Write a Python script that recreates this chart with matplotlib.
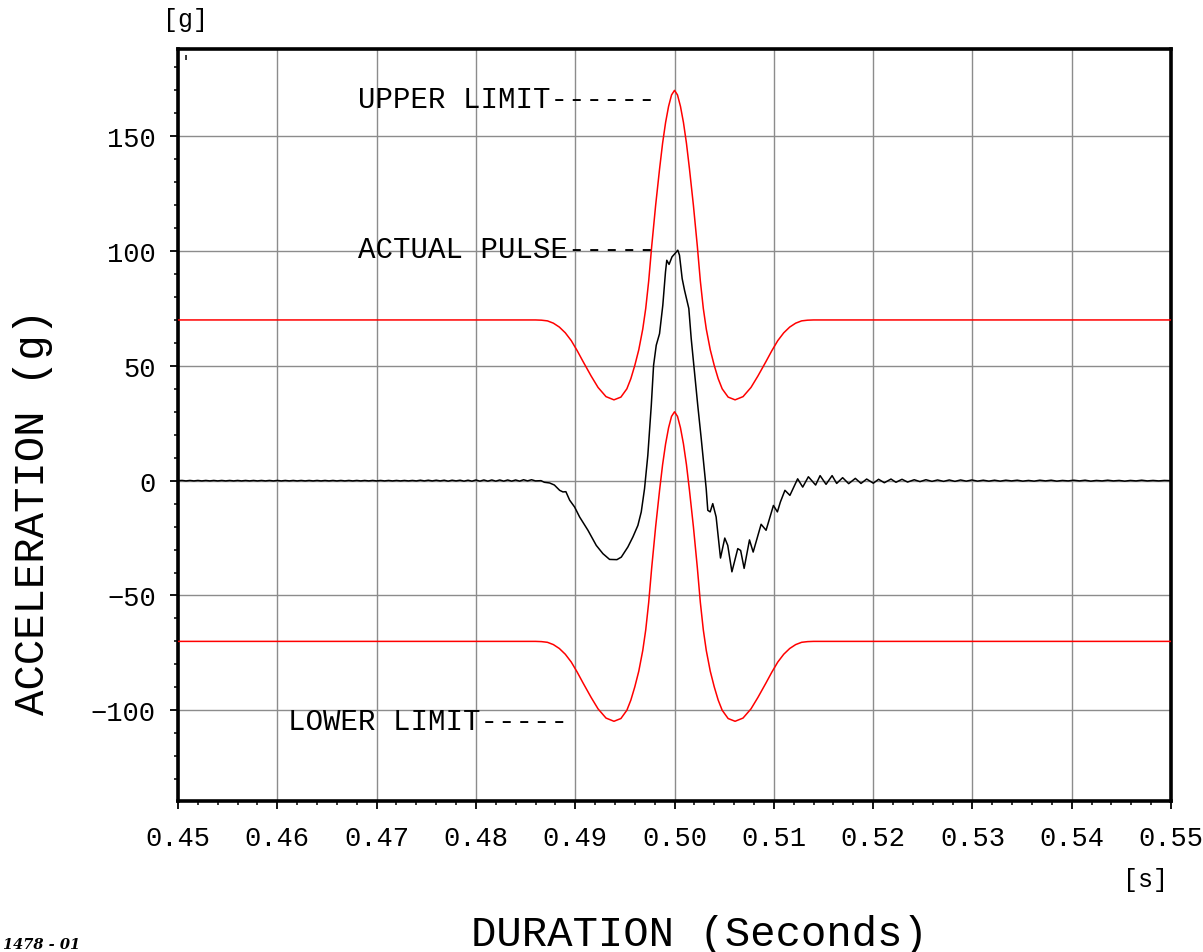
import numpy as np
import matplotlib
matplotlib.use("Agg")
import matplotlib.pyplot as plt
from matplotlib.ticker import MultipleLocator, FixedLocator

# ---------------- data ----------------
x_ticks = [0.45, 0.46, 0.47, 0.48, 0.49, 0.50, 0.51, 0.52, 0.53, 0.54, 0.55]
x_ticklabels = ["0.45", "0.46", "0.47", "0.48", "0.49", "0.50", "0.51", "0.52", "0.53", "0.54", "0.55"]
y_ticks = [-100, -50, 0, 50, 100, 150]

limit_t = [0.4500, 0.4860, 0.4866, 0.4872, 0.4878, 0.4884, 0.4890, 0.4896, 0.4902, 0.4908,
           0.4916, 0.4923, 0.4931, 0.4939, 0.4946, 0.4952, 0.4956, 0.4960, 0.4964, 0.4968,
           0.4971, 0.4974, 0.4977, 0.4981, 0.4985, 0.4988, 0.4991, 0.4994, 0.4997, 0.5000,
           0.5003, 0.5006, 0.5009, 0.5012, 0.5015, 0.5019, 0.5023, 0.5026, 0.5029, 0.5032,
           0.5036, 0.5040, 0.5044, 0.5048, 0.5054, 0.5061, 0.5069, 0.5077, 0.5084, 0.5092,
           0.5098, 0.5104, 0.5110, 0.5116, 0.5122, 0.5128, 0.5134, 0.5140, 0.5500]
upper_limit = [70.0, 70.0, 69.9, 69.6, 68.6, 66.9, 64.4, 61.0, 56.6, 51.8,
               45.6, 40.6, 36.6, 35.2, 36.4, 40.0, 44.4, 50.2, 57.0, 66.0,
               75.0, 87.0, 102.0, 120.0, 136.0, 147.0, 156.0, 163.0, 168.0, 170.0,
               168.0, 163.0, 156.0, 147.0, 136.0, 120.0, 102.0, 87.0, 75.0, 66.0,
               57.0, 50.2, 44.4, 40.0, 36.4, 35.2, 36.6, 40.6, 45.6, 51.8,
               56.6, 61.0, 64.4, 66.9, 68.6, 69.6, 69.9, 70.0, 70.0]
lower_limit = [-70.0, -70.0, -70.1, -70.4, -71.4, -73.1, -75.6, -79.0, -83.4, -88.2,
               -94.4, -99.4, -103.4, -104.8, -103.6, -100.0, -95.6, -89.8, -83.0, -74.0,
               -65.0, -53.0, -38.0, -20.0, -4.0, 7.0, 16.0, 23.0, 28.0, 30.0,
               28.0, 23.0, 16.0, 7.0, -4.0, -20.0, -38.0, -53.0, -65.0, -74.0,
               -83.0, -89.8, -95.6, -100.0, -103.6, -104.8, -103.4, -99.4, -94.4, -88.2,
               -83.4, -79.0, -75.6, -73.1, -71.4, -70.4, -70.1, -70.0, -70.0]

# quiet pre-pulse ripple, one value every 0.4 ms from 0.450 s
pre_start, pre_step = 0.4500, 0.0004
pre_vals = [0.0, 0.1, -0.1, 0.1, -0.1, 0.1, -0.1, 0.1, -0.1, 0.1,
            -0.1, 0.1, -0.1, 0.1, -0.1, 0.1, -0.1, 0.1, -0.1, 0.1,
            -0.1, 0.1, -0.1, 0.1, -0.1, 0.1, -0.1, 0.1, -0.1, 0.1,
            -0.1, 0.1, -0.1, 0.1, -0.1, 0.1, -0.1, 0.1, -0.1, 0.1,
            -0.1, 0.1, -0.1, 0.1, -0.1, 0.1, -0.1, 0.1, -0.1, 0.1,
            -0.1, 0.1, -0.1, 0.1, -0.1, 0.1, -0.1, 0.1, -0.1, 0.1,
            -0.1, 0.2, -0.1, 0.2, -0.1, 0.2, -0.1, 0.2, -0.2, 0.2,
            -0.1, 0.2, -0.2, 0.2, -0.2, 0.3, -0.2, 0.3, -0.2, 0.3,
            -0.2, 0.3, -0.2, 0.3, -0.2, 0.3, -0.2, 0.4, -0.1, 0.4,
            -0.1]

# main pulse
pulse_t = [0.48655, 0.48689, 0.48742, 0.48790, 0.48843, 0.48876, 0.48906, 0.48944, 0.48994,
           0.49044, 0.49128, 0.49212, 0.49279, 0.49346, 0.49420, 0.49464, 0.49530, 0.49581,
           0.49631, 0.49665, 0.49698, 0.49731, 0.49766, 0.49789, 0.49816, 0.49849, 0.49882,
           0.49909, 0.49922, 0.49945, 0.49975, 0.50006, 0.50033, 0.50050, 0.50077, 0.50101,
           0.50144, 0.50168, 0.50201, 0.50234, 0.50269, 0.50302, 0.50319, 0.50335, 0.50359,
           0.50385, 0.50419, 0.50463, 0.50506, 0.50536, 0.50578, 0.50637, 0.50666, 0.50701,
           0.50755, 0.50792, 0.50872, 0.50922, 0.50996, 0.51036, 0.51066, 0.51112, 0.51162,
           0.51240, 0.51291, 0.51348, 0.51421, 0.51466, 0.51526, 0.51587, 0.51633, 0.51693,
           0.51754, 0.51821, 0.51878, 0.51935, 0.52002, 0.52055, 0.52113, 0.52180, 0.52230,
           0.52291, 0.52347, 0.52414, 0.52472, 0.52532, 0.52593, 0.52649]
pulse_v = [0.0, -0.7, -1.0, -1.9, -4.2, -4.9, -4.8, -8.5, -11.5,
           -15.8, -21.6, -28.2, -31.8, -34.3, -34.4, -33.3, -28.9, -24.5,
           -19.5, -13.6, -3.5, 11.0, 32.8, 50.2, 59.0, 64.0, 76.4,
           90.9, 96.0, 94.2, 97.5, 99.0, 100.4, 98.2, 88.0, 82.9,
           75.0, 61.9, 47.4, 32.8, 18.3, 3.8, -3.5, -12.9, -13.6,
           -10.0, -15.8, -33.7, -25.0, -28.2, -39.7, -29.6, -30.4, -38.2,
           -25.8, -31.1, -19.0, -21.6, -10.8, -13.6, -9.3, -4.2, -6.4,
           0.8, -2.8, 1.7, -1.9, 2.2, -1.6, 2.2, -1.2, 1.3,
           -1.3, 1.0, -1.2, 0.7, -1.1, 0.6, -0.9, 0.7, -0.7,
           0.6, -0.6, 0.4, -0.4, 0.4, -0.3, 0.3]

# decaying tail ripple, one value every 0.57 ms from 0.5271 s
tail_start, tail_step = 0.5271, 0.00057
tail_vals = [-0.3, 0.3, -0.3, 0.3, -0.2, 0.3, -0.2, 0.2, -0.2, 0.2,
             -0.2, 0.2, -0.1, 0.2, -0.2, 0.1, -0.2, 0.2, -0.1, 0.2,
             -0.2, 0.1, -0.1, 0.2, -0.1, 0.2, -0.2, 0.1, -0.1, 0.2,
             -0.1, 0.1, -0.2, 0.1, -0.1, 0.2, -0.1, 0.1, -0.1, 0.1,
             0.0]

# ---------------- figure ----------------
plt.rcParams['font.family'] = ['Liberation Mono', 'DejaVu Sans Mono']

fig = plt.figure(figsize=(12.03, 9.53), dpi=100)
ax = fig.add_axes([0.148, 0.1585, 0.8254, 0.789])

pre_t = pre_start + pre_step * np.arange(len(pre_vals))
tail_t = tail_start + tail_step * np.arange(len(tail_vals))
act_t = np.concatenate([pre_t, pulse_t, tail_t])
act_v = np.concatenate([pre_vals, pulse_v, tail_vals])

ax.plot(limit_t, upper_limit, color='#ff0000', lw=1.1, zorder=3)
ax.plot(limit_t, lower_limit, color='#ff0000', lw=1.1, zorder=3)
ax.plot(act_t, act_v, color='black', lw=1.1, zorder=4)

ax.set_xlim(0.45, 0.55)
ax.set_ylim(-139.5, 188.0)

ax.xaxis.set_major_locator(FixedLocator(x_ticks))
ax.set_xticklabels(x_ticklabels)
ax.xaxis.set_minor_locator(MultipleLocator(0.002))
ax.yaxis.set_major_locator(FixedLocator(y_ticks))
ax.yaxis.set_minor_locator(MultipleLocator(10))

ax.grid(True, which='major', color='#8c8c8c', lw=1.0, zorder=1)
ax.set_axisbelow(True)

for s in ax.spines.values():
    s.set_linewidth(2.6)
    s.set_color('black')

ax.tick_params(axis='both', which='major', direction='out', length=6, width=1.3,
               labelsize=19.5, color='black')
ax.tick_params(axis='both', which='minor', direction='out', length=3, width=1.1,
               color='black')
ax.tick_params(axis='x', which='major', pad=11)
ax.tick_params(axis='y', which='major', pad=10)
ax.tick_params(top=False, right=False, which='both')

fig.text(699 / 1203, 1 - 935 / 953, 'DURATION (Seconds)', fontsize=30.5,
         ha='center', va='center')
fig.text(33 / 1203, 1 - 512 / 953, 'ACCELERATION (g)', fontsize=30.5,
         rotation=90, ha='center', va='center')

txt_kw = dict(fontsize=21, ha='left', va='center', color='black', zorder=5)
ax.text(0.46811, 166.4, 'UPPER LIMIT------', **txt_kw)
ax.text(0.46811, 101.0, 'ACTUAL PULSE-----', **txt_kw)
ax.text(0.46107, -104.6, 'LOWER LIMIT-----', **txt_kw)

fig.text(185 / 1203, 1 - 20 / 953, '[g]', fontsize=18, ha='center', va='center')
fig.text(1145 / 1203, 1 - 880 / 953, '[s]', fontsize=18, ha='center', va='center')
fig.text(3 / 1203, 1 - 945 / 953, '1478 - 01', fontsize=10.5, fontweight='bold',
         style='italic', ha='left', va='center', family=['DejaVu Serif'])
ax.text(0.0075, 0.984, "'", transform=ax.transAxes, fontsize=12, ha='center', va='center')

fig.savefig('out.png', dpi=100)
